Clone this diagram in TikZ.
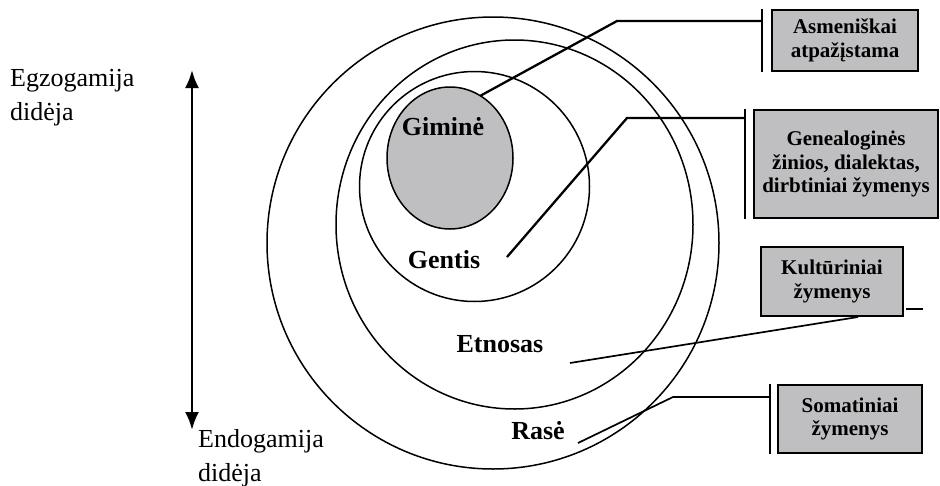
\documentclass[tikz,border=0pt]{standalone}
\usepackage{fontspec}
\setmainfont{Liberation Serif}
\usetikzlibrary{shapes.geometric,arrows.meta}
\definecolor{ringgray}{RGB}{191,191,193}

\begin{document}
\begin{tikzpicture}[
        x=1pt, y=-1pt,
        ring/.style={draw, line width=1.5pt, inner sep=0pt, outer sep=0pt},
        ringlbl/.style={anchor=base, inner sep=0pt,
          font=\fontsize{26}{30}\selectfont\bfseries},
        sidelbl/.style={anchor=north west, align=left, inner sep=0pt,
          font=\fontsize{26}{34}\selectfont},
        tag/.style={draw, line width=2pt, fill=ringgray, align=center,
          inner sep=2pt, font=\fontsize{21}{23.5}\selectfont\bfseries},
        lead/.style={line width=2.3pt},
        thinlead/.style={line width=1.7pt},
        bar/.style={line width=2.8pt},
      ]
        \useasboundingbox (0,0) rectangle (940,485);

        % Rings
        \node[ring, circle, minimum size=452pt] (rase) at (493,243) {};
        \node[ring, ellipse, minimum width=357pt, minimum height=369pt]
          (etnosas) at (514.5,224.5) {};
        \node[ring, circle, minimum size=230pt] (gentis) at (474.5,186.5) {};
        \node[ring, ellipse, fill=ringgray, minimum width=126pt,
          minimum height=142pt] (gimine) at (450,158) {};

        \node[ringlbl] (lgimine)  at (443,135) {Giminė};
        \node[ringlbl] (lgentis)  at (444,268) {Gentis};
        \node[ringlbl] (letnosas) at (500,352) {Etnosas};
        \node[ringlbl] (lrase)    at (538,439) {Rasė};

        % Exogamy / endogamy axis
        \coordinate (top) at (192,70);
        \coordinate (bot) at (192,430);
        \draw[line width=2.6pt, {Latex[length=18pt,width=14pt]}-{Latex[length=18pt,width=14pt]}]
          (top) -- (bot);
        \node[sidelbl] (egzo) at (10,69) {Egzogamija\\didėja};
        \node[sidelbl] (endo) at (198,429) {Endogamija\\didėja};

        % Tags on the right
        \node[tag, minimum width=146pt, minimum height=61pt] (asm) at (845,40.5)
          {Asmeniškai\\atpažįstama};
        \node[tag, minimum width=184pt, minimum height=108pt] (gen) at (846,164)
          {Genealoginės\\žinios, dialektas,\\dirbtiniai žymenys};
        \node[tag, minimum width=142pt, minimum height=69pt] (kult) at (832,281.5)
          {Kultūriniai\\žymenys};
        \node[tag, minimum width=144pt, minimum height=68pt] (soma) at (850,419)
          {Somatiniai\\žymenys};

        % Bars beside the tags
        \coordinate (b1) at ([xshift=-9pt]asm.north west);
        \coordinate (b2) at ([xshift=-8pt]gen.north west);
        \coordinate (b4) at ([xshift=-7pt]soma.north west);
        \draw[bar] (b1) -- (b1 |- asm.south);
        \draw[bar] (b2) -- (b2 |- gen.south);
        \draw[bar] (b4) -- (b4 |- soma.south);
        \draw[thinlead] ([shift={(2pt,8pt)}]kult.south east) -- ++(17,0);

        % Leaders
        \coordinate (k1) at (617,21);
        \coordinate (p2) at (507,257);
        \coordinate (k2) at (627,118);
        \coordinate (p3) at (570,363);
        \coordinate (p4) at (578,443);
        \coordinate (k4) at (673,397);
        \draw[lead] (gimine.64) -- (k1) -- (k1 -| b1);
        \draw[lead] (p2) -- (k2) -- (k2 -| b2);
        \draw[thinlead] (p3) -- ([xshift=26pt]kult.south);
        \draw[thinlead] (p4) -- (k4) -- (k4 -| b4);
      \end{tikzpicture}
\end{document}
